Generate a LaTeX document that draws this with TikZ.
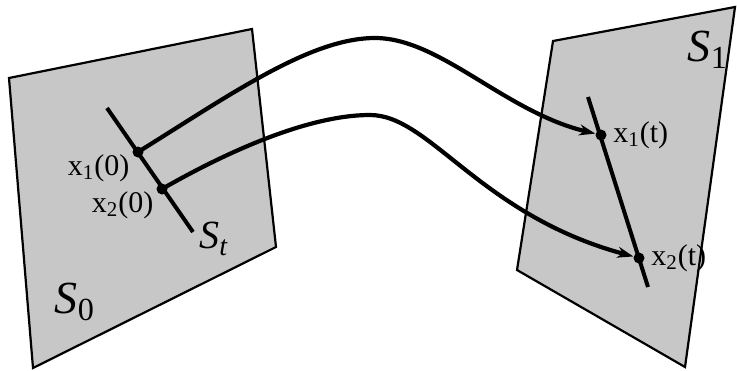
\documentclass[tikz,border=0pt]{standalone}
\usepackage{fontspec}
\setmainfont{Liberation Serif}
\usetikzlibrary{arrows.meta,positioning}

\begin{document}
\begin{tikzpicture}[
  x=0.5pt, y=-0.5pt,
  plane/.style={draw, line width=1.1pt, fill=black!22, line join=miter},
  seg/.style={line width=2pt},
  flow/.style={line width=2.1pt, -{Stealth[length=8pt, width=5.5pt, inset=2.5pt]}},
  pt/.style={circle, fill, inner sep=0pt, minimum size=5.5pt},
  lbl/.style={font=\rmfamily\fontsize{15}{17}\selectfont, inner sep=1pt},
  big/.style={font=\rmfamily\fontsize{23}{26}\selectfont, inner sep=0pt}
]
\useasboundingbox (0,0) rectangle (737,370);
% the two surfaces
\draw[plane] (9,78) -- (252,29) -- (276,247) -- (33,368) -- cycle;
\draw[plane] (553,41) -- (735,7) -- (685,367) -- (517,270) -- cycle;
% the segment S_t on both surfaces
\coordinate (a0) at (107,108);
\coordinate (b0) at (193,232);
\coordinate (a1) at (588,97);
\coordinate (b1) at (648,287);
\draw[seg] (a0) -- (b0);
\draw[seg] (a1) -- (b1);
\node[pt] (p10) at (138,152) {};
\node[pt] (p20) at (162,189) {};
\node[pt] (p1t) at (601,135) {};
\node[pt] (p2t) at (639,258) {};
% labels
\node[lbl, below left=-2pt and 1pt of p10] (l10) {x\textsubscript{1}(0)};
\node[lbl, below left=-2pt and 1pt of p20] (l20) {x\textsubscript{2}(0)};
\node[lbl, right=2pt of p1t] (l1t) {x\textsubscript{1}(t)};
\node[lbl, right=2pt of p2t] (l2t) {x\textsubscript{2}(t)};
\node[big, font=\rmfamily\fontsize{20}{22}\selectfont, below right=-5pt and 3pt of b0] (st) {\textit{S}\textsubscript{\textit{t}}};
\node[big] (s0) at (75,302) {\textit{S}\textsubscript{0}};
\node[big] (s1) at (708,50) {\textit{S}\textsubscript{1}};
% trajectories
\draw[flow] (p10.center) .. controls (230,95) and (310,38) .. (375,38)
  .. controls (440,38) and (505,112) .. (p1t);
\draw[flow] (p20.center) .. controls (230,150) and (310,115) .. (370,115)
  .. controls (430,115) and (480,215) .. (p2t);
\end{tikzpicture}
\end{document}
